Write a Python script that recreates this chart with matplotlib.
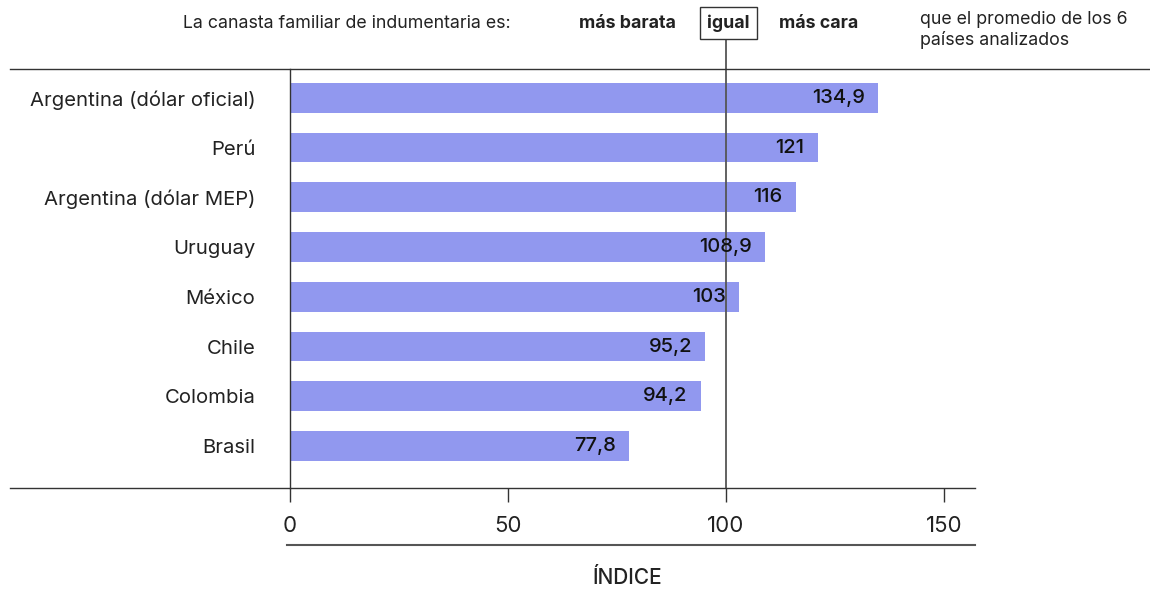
import matplotlib.pyplot as plt
from matplotlib.lines import Line2D

plt.rcParams['font.family'] = ['Inter', 'DejaVu Sans']

paises = ['Argentina (dólar oficial)', 'Perú', 'Argentina (dólar MEP)', 'Uruguay',
          'México', 'Chile', 'Colombia', 'Brasil']
indice = [134.9, 121, 116, 108.9, 103, 95.2, 94.2, 77.8]
etiquetas = ['134,9', '121', '116', '108,9', '103', '95,2', '94,2', '77,8']
ticks = [0, 50, 100, 150]

color_barra = '#9198ef'
color_linea = '#333333'

fig = plt.figure(figsize=(11.5, 5.96), dpi=100)
ax = fig.add_axes([290 / 1150, 1 - 488 / 596, (975 - 290) / 1150, (488 - 69) / 596])

y = list(range(len(paises)))
ax.barh(y, indice, height=0.6, color=color_barra, zorder=1)
for yi, v, lab in zip(y, indice, etiquetas):
    ax.text(v - 3.0, yi, lab, ha='right', va='center', fontsize=14.5, fontweight='medium',
            color='#111111', zorder=3)

ax.set_xlim(0, 157.1)
ax.set_ylim(7.845, -0.58)
ax.set_yticks(y)
ax.set_yticklabels(paises, fontsize=14.6, color='#222222')
ax.tick_params(axis='y', length=0, pad=25)
ax.set_xticks(ticks)
ax.set_xticklabels([str(t) for t in ticks], fontsize=16, color='#222222')
ax.tick_params(axis='x', direction='out', length=10, width=1, color=color_linea, pad=10)

for s in ['top', 'right', 'bottom']:
    ax.spines[s].set_visible(False)
ax.spines['left'].set_color(color_linea)
ax.spines['left'].set_linewidth(1)

# línea del promedio
ax.axvline(100, color='#555555', lw=1.3, zorder=2)
fig.add_artist(Line2D([726 / 1150, 726 / 1150], [1 - 69 / 596, 1 - 38 / 596],
                      color='#555555', lw=1.3))

# líneas horizontales
fig.add_artist(Line2D([10 / 1150, 1], [1 - 69 / 596] * 2, color=color_linea, lw=1))
fig.add_artist(Line2D([10 / 1150, 975 / 1150], [1 - 488 / 596] * 2, color=color_linea, lw=1))
fig.add_artist(Line2D([287 / 1150, 975 / 1150], [1 - 545 / 596] * 2, color='#555555', lw=1.5))

fig.text(627 / 1150, 1 - 578 / 596, 'ÍNDICE', ha='center', va='center', fontsize=15,
         fontweight='medium', color='#222222')

# encabezado
fs = 12.8
fig.text(183 / 1150, 1 - 23 / 596, 'La canasta familiar de indumentaria es:', ha='left',
         va='center', fontsize=fs, color='#222222')
fig.text(627 / 1150, 1 - 23 / 596, 'más barata', ha='center', va='center', fontsize=fs,
         fontweight='bold', color='#222222')
fig.text(728.5 / 1150, 1 - 23 / 596, 'igual', ha='center', va='center', fontsize=fs,
         fontweight='bold', color='#222222',
         bbox=dict(boxstyle='square,pad=0.4', fc='white', ec='#333333', lw=1))
fig.text(819 / 1150, 1 - 23 / 596, 'más cara', ha='center', va='center', fontsize=fs,
         fontweight='bold', color='#222222')
fig.text(920 / 1150, 1 - 30 / 596, 'que el promedio de los 6\npaíses analizados', ha='left',
         va='center', fontsize=fs, color='#222222', linespacing=1.2)

fig.savefig('out.png', dpi=100)
